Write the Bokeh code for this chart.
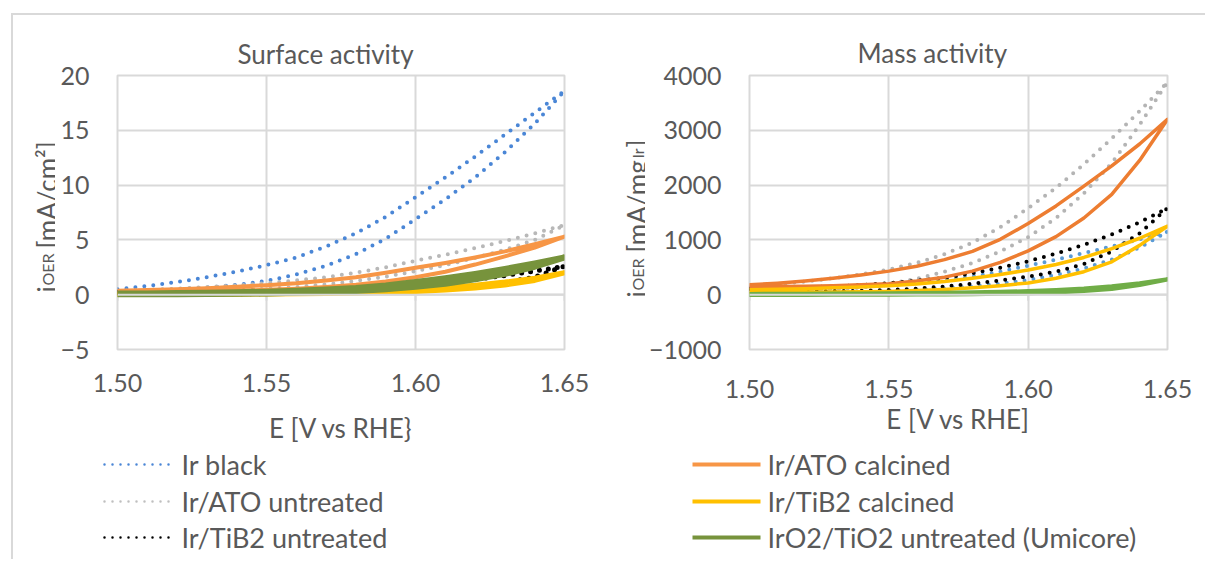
import math
from bokeh.plotting import figure
from bokeh.layouts import column, row
from bokeh.models import Range1d, FixedTicker, NumeralTickFormatter, Span
from bokeh.core.properties import value
from bokeh.embed import file_html
from bokeh.resources import INLINE

FONT = "Lato"
TXT = "#595959"
GRID = "#d9d9d9"

# ---------------------------------------------------------------- data
E_V = [1.50, 1.51, 1.52, 1.53, 1.54, 1.55, 1.56, 1.57,
       1.58, 1.59, 1.60, 1.61, 1.62, 1.63, 1.64, 1.65]

X_TICKS = [1.50, 1.55, 1.60, 1.65]
SURF_Y_TICKS = [-5, 0, 5, 10, 15, 20]
MASS_Y_TICKS = [-1000, 0, 1000, 2000, 3000, 4000]

SERIES = ["Ir black", "Ir/ATO untreated", "Ir/TiB2 untreated",
          "Ir/ATO calcined", "Ir/TiB2 calcined", "IrO2/TiO2 untreated (Umicore)"]

# surface activity, mA/cm2 : anodic (upper) and cathodic (lower) branch
surf_irblack_up = [0.50, 0.80, 1.15, 1.60, 2.10, 2.70, 3.40, 4.40, 5.60, 7.10, 8.90, 10.7, 12.6, 14.6, 16.6, 18.6]
surf_irblack_dn = [0.20, 0.30, 0.45, 0.65, 0.90, 1.25, 1.85, 2.65, 3.70, 5.10, 6.90, 8.70, 10.7, 13.0, 15.6, 18.6]
surf_atou_up = [0.35, 0.45, 0.55, 0.70, 0.85, 1.05, 1.30, 1.60, 2.00, 2.50, 3.10, 3.65, 4.25, 4.90, 5.60, 6.35]
surf_atou_dn = [0.10, 0.15, 0.20, 0.30, 0.40, 0.55, 0.70, 0.95, 1.25, 1.65, 2.15, 2.70, 3.35, 4.10, 5.00, 6.35]
surf_tib2u_up = [0.20, 0.22, 0.25, 0.28, 0.32, 0.37, 0.43, 0.50, 0.60, 0.72, 0.88, 1.10, 1.40, 1.75, 2.15, 2.60]
surf_tib2u_dn = [0.05, 0.05, 0.06, 0.07, 0.08, 0.10, 0.13, 0.17, 0.22, 0.30, 0.42, 0.58, 0.80, 1.10, 1.60, 2.60]
surf_atoc_up = [0.35, 0.42, 0.50, 0.60, 0.72, 0.87, 1.05, 1.30, 1.60, 2.00, 2.45, 2.90, 3.40, 3.95, 4.60, 5.30]
surf_atoc_dn = [0.20, 0.22, 0.25, 0.30, 0.37, 0.45, 0.55, 0.70, 0.90, 1.20, 1.60, 2.10, 2.75, 3.50, 4.30, 5.30]
surf_tib2c_up = [0.05, 0.06, 0.07, 0.08, 0.10, 0.13, 0.17, 0.22, 0.29, 0.38, 0.50, 0.66, 0.87, 1.15, 1.50, 2.00]
surf_tib2c_dn = [0.02, 0.02, 0.03, 0.04, 0.05, 0.07, 0.09, 0.12, 0.16, 0.22, 0.30, 0.42, 0.60, 0.88, 1.30, 2.00]
surf_iro2_up = [0.10, 0.12, 0.15, 0.18, 0.22, 0.28, 0.36, 0.47, 0.62, 0.85, 1.15, 1.50, 1.90, 2.35, 2.85, 3.40]
surf_iro2_dn = [0.03, 0.04, 0.05, 0.07, 0.09, 0.12, 0.17, 0.24, 0.34, 0.50, 0.72, 1.00, 1.40, 1.90, 2.55, 3.40]

# mass activity, mA/mg_Ir
mass_irblack_up = [80, 90, 105, 120, 145, 175, 215, 265, 330, 420, 530, 640, 760, 880, 1010, 1150]
mass_irblack_dn = [30, 30, 35, 40, 50, 65, 85, 115, 150, 200, 270, 360, 480, 640, 860, 1150]
mass_atou_up = [150, 190, 240, 300, 370, 460, 580, 740, 950, 1230, 1580, 1950, 2380, 2850, 3350, 3880]
mass_atou_dn = [20, 40, 60, 90, 130, 200, 290, 420, 580, 790, 1050, 1400, 1850, 2400, 3100, 3880]
mass_tib2u_up = [110, 120, 135, 150, 175, 210, 255, 310, 390, 490, 610, 750, 910, 1100, 1320, 1580]
mass_tib2u_dn = [80, 70, 65, 65, 70, 85, 110, 150, 200, 260, 330, 420, 560, 790, 1120, 1580]
mass_atoc_up = [180, 210, 250, 300, 360, 430, 520, 640, 790, 1010, 1300, 1620, 1980, 2350, 2750, 3200]
mass_atoc_dn = [150, 150, 155, 165, 180, 200, 250, 320, 430, 590, 800, 1060, 1400, 1830, 2450, 3200]
mass_tib2c_up = [90, 100, 110, 125, 140, 165, 195, 240, 300, 370, 450, 550, 680, 840, 1030, 1250]
mass_tib2c_dn = [50, 45, 45, 48, 52, 60, 75, 95, 125, 165, 215, 300, 420, 600, 900, 1250]
mass_iro2_up = [10, 12, 14, 16, 19, 22, 26, 31, 38, 48, 62, 82, 110, 150, 205, 280]
mass_iro2_dn = [0, 0, 1, 2, 3, 5, 7, 10, 14, 20, 30, 45, 70, 110, 180, 280]

SURF = [(surf_irblack_up, surf_irblack_dn), (surf_atou_up, surf_atou_dn),
        (surf_tib2u_up, surf_tib2u_dn), (surf_atoc_up, surf_atoc_dn),
        (surf_tib2c_up, surf_tib2c_dn), (surf_iro2_up, surf_iro2_dn)]
MASS = [(mass_irblack_up, mass_irblack_dn), (mass_atou_up, mass_atou_dn),
        (mass_tib2u_up, mass_tib2u_dn), (mass_atoc_up, mass_atoc_dn),
        (mass_tib2c_up, mass_tib2c_dn), (mass_iro2_up, mass_iro2_dn)]

# ---------------------------------------------------------------- styles
SURF_STYLE = [
    dict(color="#4A86D6", width=4, dash="0 9"),
    dict(color="#B8B8B8", width=4, dash="0 9"),
    dict(color="#000000", width=5, dash="0 9"),
    dict(color="#F79646", width=4, dash="solid"),
    dict(color="#FFC000", width=5, dash="solid"),
    dict(color="#77933C", width=6, dash="solid"),
]
MASS_STYLE = [
    dict(color="#5B9BD5", width=4, dash="0 9"),
    dict(color="#B4B4B4", width=4, dash="0 9"),
    dict(color="#000000", width=4, dash="0 9"),
    dict(color="#ED7D31", width=3.5, dash="solid"),
    dict(color="#FFC000", width=3.5, dash="solid"),
    dict(color="#70AD47", width=4.5, dash="solid"),
]
LEGEND_STYLE = [
    dict(color="#4A86D6", width=2.5, dash="0 8"),
    dict(color="#BFBFBF", width=2.5, dash="0 8"),
    dict(color="#000000", width=2.5, dash="0 8"),
    dict(color="#F79646", width=4, dash="solid"),
    dict(color="#FFC000", width=4, dash="solid"),
    dict(color="#77933C", width=4, dash="solid"),
]

# page geometry (pixels); plots in one row share their vertical frame extent
PAGE_W = 1205
FRAME_TOP, FRAME_BOT = 75, 349
ROW_H = 446
LEG_H = 562 - ROW_H
B_TOP = FRAME_TOP
B_BOT = ROW_H - FRAME_BOT


def side_strip(x0, x1):
    """Axis-less figure in the chart row; data coordinates equal page pixels."""
    s = figure(width=x1 - x0, height=ROW_H, x_range=Range1d(x0, x1),
               y_range=Range1d(FRAME_BOT, FRAME_TOP),
               output_backend="svg", toolbar_location=None, x_axis_type=None, y_axis_type=None,
               min_border_left=0, min_border_right=0,
               min_border_top=B_TOP, min_border_bottom=B_BOT)
    s.grid.visible = False
    s.outline_line_color = None
    s.background_fill_color = None
    s.border_fill_color = None
    return s


def vlabel(s, parts):
    for txt, size, bx, by in parts:
        s.text(x=[bx], y=[by], text=[txt], angle=math.pi / 2, text_font=value(FONT),
               text_font_size=size, text_color=TXT, text_align="left",
               text_baseline="alphabetic")


def panel(px0, px1, fl, fr, y_range, y_ticks, data, styles, title, title_off, title_standoff,
          tick_standoff, xlabel, xlabel_standoff):
    p = figure(width=px1 - px0, height=ROW_H, x_range=Range1d(E_V[0], E_V[-1]),
               y_range=Range1d(*y_range), output_backend="svg", toolbar_location=None,
               min_border_left=fl - px0, min_border_right=px1 - fr,
               min_border_top=B_TOP, min_border_bottom=B_BOT)
    p.background_fill_color = "white"
    p.border_fill_color = None
    p.outline_line_color = GRID
    p.outline_line_width = 2

    p.title.text = title
    p.title.text_font = FONT
    p.title.text_font_size = "26px"
    p.title.text_font_style = "normal"
    p.title.text_color = TXT
    p.title.align = "left"
    p.title.offset = title_off
    p.title.standoff = title_standoff

    p.xaxis.ticker = FixedTicker(ticks=X_TICKS)
    p.xaxis.formatter = NumeralTickFormatter(format="0.00")
    p.yaxis.ticker = FixedTicker(ticks=y_ticks)
    p.xgrid.ticker = FixedTicker(ticks=X_TICKS)
    p.ygrid.ticker = FixedTicker(ticks=y_ticks)
    for g in (p.xgrid, p.ygrid):
        g.grid_line_color = GRID
        g.grid_line_width = 2
    for ax in p.axis:
        ax.axis_line_color = None
        ax.major_tick_line_color = None
        ax.minor_tick_line_color = None
        ax.major_tick_out = 0
        ax.major_tick_in = 0
        ax.minor_tick_out = 0
        ax.minor_tick_in = 0
        ax.major_label_text_font = FONT
        ax.major_label_text_font_size = "25px"
        ax.major_label_text_color = TXT
    p.xaxis.major_label_standoff = tick_standoff
    p.yaxis.major_label_standoff = 28
    p.xaxis.axis_label = xlabel
    p.xaxis.axis_label_text_font = FONT
    p.xaxis.axis_label_text_font_size = "26px"
    p.xaxis.axis_label_text_font_style = "normal"
    p.xaxis.axis_label_text_color = TXT
    p.xaxis.axis_label_standoff = xlabel_standoff

    # horizontal axis line through zero with outward tick marks
    y0, y1 = y_range
    p.add_layout(Span(location=0, dimension="width", line_color=GRID, line_width=2))
    tick_len = 6 * (y1 - y0) / (FRAME_BOT - FRAME_TOP)
    p.segment(x0=X_TICKS, y0=[0] * len(X_TICKS), x1=X_TICKS,
              y1=[-tick_len] * len(X_TICKS), line_color=GRID, line_width=2)

    for (up, dn), st in zip(data, styles):
        xs = E_V + E_V[::-1]
        ys = up + dn[::-1]
        p.line(xs, ys, line_color=st["color"], line_width=st["width"],
               line_dash=st["dash"], line_cap="round", line_join="round")
    return p


# y-axis titles
s1 = side_strip(0, 55)
vlabel(s1, [("i", "26px", 46, 292), ("OER", "16px", 47, 285), ("[mA/cm²]", "26px", 46, 248)])

s2 = side_strip(600, 645)
vlabel(s2, [("i", "26px", 636, 297), ("OER", "16px", 637, 290), ("[mA/mg", "26px", 636, 252),
            ("Ir", "16px", 637, 158), ("]", "26px", 636, 147)])

p1 = panel(55, 600, 117, 564, (-5, 20), SURF_Y_TICKS, SURF, SURF_STYLE,
           "Surface activity", 120, 12, 24, "E [V vs RHE}", 17)
p2 = panel(645, PAGE_W, 748, 1167, (-1000, 4000), MASS_Y_TICKS, MASS, MASS_STYLE,
           "Mass activity", 108, 14, 30, "E [V vs RHE]", 2)

# ---------------------------------------------------------------- legend strip
leg = figure(width=PAGE_W, height=LEG_H, x_range=Range1d(0, PAGE_W),
             y_range=Range1d(562, ROW_H), output_backend="svg", toolbar_location=None,
             x_axis_type=None, y_axis_type=None,
             min_border_left=0, min_border_right=0, min_border_top=0, min_border_bottom=0)
leg.grid.visible = False
leg.outline_line_color = None
leg.background_fill_color = None
leg.border_fill_color = None

LEG_ROWS = [464, 501, 537, 464, 501, 537]
LEG_LINE_X = [(104, 173)] * 3 + [(692, 760)] * 3
LEG_TEXT_X = [181] * 3 + [767] * 3
for name, st, yy, (a, b), tx in zip(SERIES, LEGEND_STYLE, LEG_ROWS, LEG_LINE_X, LEG_TEXT_X):
    leg.line([a, b], [yy, yy], line_color=st["color"], line_width=st["width"],
             line_dash=st["dash"], line_cap="round" if st["dash"] != "solid" else "butt")
    leg.text(x=[tx], y=[yy], text=[name], text_font=value(FONT), text_font_size="27px",
             text_color=TXT, text_align="left", text_baseline="middle")

# chart-area border (top and left edges) painted behind the transparent canvases
edge = f"linear-gradient({GRID}, {GRID})"
layout = column(row(s1, p1, s2, p2), leg,
                styles={"background": f"{edge} 12px 13px / 1193px 2px no-repeat, "
                                      f"{edge} 11px 13px / 2px 546px no-repeat, white"})

with open("out.html", "w") as f:
    f.write(file_html(layout, INLINE, title="Surface and mass activity"))
